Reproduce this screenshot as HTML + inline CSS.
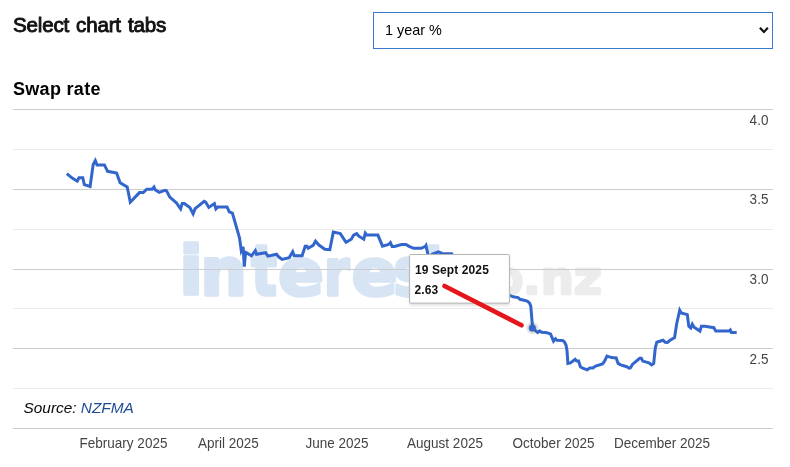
<!DOCTYPE html>
<html><head><meta charset="utf-8">
<style>
html,body{margin:0;padding:0;background:#fff;}
body{width:790px;height:467px;overflow:hidden;position:relative;font-family:"Liberation Sans",sans-serif;color:#111;}
.h1{position:absolute;left:13px;top:11px;font-size:21px;line-height:28px;font-weight:normal;-webkit-text-stroke:0.9px #111;color:#111;transform:scaleX(0.98);transform-origin:0 0;white-space:nowrap;word-spacing:1.6px;letter-spacing:-0.2px;}
.sel{position:absolute;left:373px;top:12px;width:400px;height:36.5px;border:1px solid #3b78d0;box-sizing:border-box;background:#fff;}
.sel span{position:absolute;left:11px;top:8px;font-size:14.4px;line-height:18px;color:#000;}
.h2{position:absolute;left:13px;top:78px;font-size:18px;line-height:22px;font-weight:bold;color:#000;letter-spacing:0.3px;}
.src{position:absolute;left:23.5px;top:398px;font-size:15.4px;line-height:20px;font-style:italic;color:#0a0a0a;white-space:nowrap;}
.src a{color:#214c96;text-decoration:none;}
svg{position:absolute;left:0;top:0;}
</style></head><body>
<div class="h1">Select chart tabs</div>
<div class="sel"><span>1 year %</span></div>
<div class="h2">Swap rate</div>
<svg width="790" height="467" viewBox="0 0 790 467">
<defs><filter id="bl" x="-5%" y="-20%" width="110%" height="140%"><feGaussianBlur stdDeviation="0.7"/></filter><filter id="sh" x="-10%" y="-10%" width="120%" height="130%"><feDropShadow dx="0" dy="2" stdDeviation="1" flood-color="#cccccc" flood-opacity="0.6"/></filter><radialGradient id="halo"><stop offset="0.45" stop-color="#444" stop-opacity="0.3"/><stop offset="1" stop-color="#444" stop-opacity="0"/></radialGradient></defs>
<path d="M759.9,27.8 L763.9,31.9 L767.9,27.8" fill="none" stroke="#111" stroke-width="2.2" stroke-linecap="butt" stroke-linejoin="miter"/>
<g filter="url(#bl)" font-family="DejaVu Sans, sans-serif" font-weight="bold" stroke-linejoin="round">
<text><tspan fill="#d7e4f3" stroke="#d7e4f3" stroke-width="3.5"><tspan x="179.26" y="294.75" font-size="68.05" textLength="23.79" lengthAdjust="spacingAndGlyphs">i</tspan><tspan x="200.59" y="294.75" font-size="65.17" textLength="46.24" lengthAdjust="spacingAndGlyphs">n</tspan><tspan x="251.24" y="295.25" font-size="69.93" textLength="25.65" lengthAdjust="spacingAndGlyphs">t</tspan><tspan x="278.35" y="294.64" font-size="64.09" textLength="45.46" lengthAdjust="spacingAndGlyphs">e</tspan><tspan x="324.08" y="294.75" font-size="64.64" textLength="25.28" lengthAdjust="spacingAndGlyphs">r</tspan><tspan x="351.84" y="294.64" font-size="64.09" textLength="45.78" lengthAdjust="spacingAndGlyphs">e</tspan><tspan x="393.40" y="294.61" font-size="66.53" textLength="32.76" lengthAdjust="spacingAndGlyphs">s</tspan><tspan x="423.14" y="295.25" font-size="69.93" textLength="25.65" lengthAdjust="spacingAndGlyphs">t</tspan></tspan><tspan fill="#ececec" stroke="#ececec" stroke-width="2.5"><tspan x="452.40" y="294.35" font-size="39.16" textLength="16.80" lengthAdjust="spacingAndGlyphs">.</tspan><tspan x="469.82" y="294.00" font-size="45.98" textLength="25.38" lengthAdjust="spacingAndGlyphs">c</tspan><tspan x="494.84" y="294.00" font-size="45.98" textLength="28.61" lengthAdjust="spacingAndGlyphs">o</tspan><tspan x="523.50" y="294.35" font-size="39.16" textLength="16.80" lengthAdjust="spacingAndGlyphs">.</tspan><tspan x="540.64" y="294.35" font-size="46.60" textLength="33.15" lengthAdjust="spacingAndGlyphs">n</tspan><tspan x="573.86" y="294.35" font-size="45.53" textLength="28.13" lengthAdjust="spacingAndGlyphs">z</tspan></tspan></text>
</g>
<g stroke="#ccc" stroke-width="1" shape-rendering="crispEdges">
<line x1="13" x2="773" y1="109.5" y2="109.5"/>
<line x1="13" x2="773" y1="189.5" y2="189.5"/>
<line x1="13" x2="773" y1="269.5" y2="269.5"/>
<line x1="13" x2="773" y1="348.5" y2="348.5"/>
<line x1="13" x2="773" y1="428.5" y2="428.5"/>
</g>
<g stroke="#ebebeb" stroke-width="1" shape-rendering="crispEdges">
<line x1="13" x2="773" y1="149.5" y2="149.5"/>
<line x1="13" x2="773" y1="229.5" y2="229.5"/>
<line x1="13" x2="773" y1="308.5" y2="308.5"/>
<line x1="13" x2="773" y1="388.5" y2="388.5"/>
</g>
<g font-family="Liberation Sans, sans-serif" font-size="14" fill="#444" text-anchor="end">
<text transform="translate(768.4,125) scale(0.965,1)">4.0</text>
<text transform="translate(768.4,204) scale(0.965,1)">3.5</text>
<text transform="translate(768.4,284) scale(0.965,1)">3.0</text>
<text transform="translate(768.4,364) scale(0.965,1)">2.5</text>
</g>
<g font-family="Liberation Sans, sans-serif" font-size="14" fill="#444" text-anchor="middle">
<text transform="translate(123.5,448.4) scale(0.965,1)">February 2025</text>
<text transform="translate(228.4,448.4) scale(0.965,1)">April 2025</text>
<text transform="translate(337,448.4) scale(0.965,1)">June 2025</text>
<text transform="translate(445,448.4) scale(0.965,1)">August 2025</text>
<text transform="translate(553.5,448.4) scale(0.965,1)">October 2025</text>
<text transform="translate(662,448.4) scale(0.965,1)">December 2025</text>
</g>
<path d="M66.8,173.6 L71.9,177.8 L77.2,181.2 L79.0,177.8 L82.8,177.8 L84.3,184.7 L90.1,186.5 L93.2,164.4 L95.3,160.6 L97.0,164.9 L104.4,164.9 L107.6,171.3 L116.6,173.1 L120.1,182.7 L127.2,187.0 L130.3,202.2 L139.4,192.6 L143.3,192.6 L146.7,189.2 L152.0,189.2 L154.0,187.0 L155.1,189.8 L159.2,192.3 L164.9,190.3 L166.5,190.8 L169.8,197.1 L176.1,202.5 L180.6,208.9 L182.2,203.6 L184.4,203.6 L189.8,207.4 L193.1,213.8 L195.1,208.6 L204.2,201.3 L205.7,202.1 L208.8,207.4 L214.4,203.6 L215.9,208.9 L217.9,206.9 L227.0,206.9 L229.3,211.9 L232.4,213.2 L239.5,237.8 L241.3,250.7 L243.1,246.9 L244.3,266.7 L245.6,252.3 L251.5,255.8 L255.3,250.7 L256.5,254.2 L265.6,252.7 L267.9,256.1 L276.6,254.2 L278.6,256.8 L282.1,259.4 L289.2,257.6 L292.7,251.8 L294.2,255.8 L302.1,255.8 L305.2,246.2 L307.0,246.2 L308.2,248.2 L313.1,245.4 L315.5,241.2 L318.9,245.1 L324.9,249.2 L329.8,249.7 L333.3,232.1 L340.3,233.6 L346.0,242.3 L351.3,239.2 L353.6,235.1 L356.6,233.6 L358.9,236.2 L363.8,239.2 L365.3,233.1 L366.8,235.1 L377.9,235.1 L382.5,246.1 L388.6,244.5 L390.4,242.7 L392.1,246.4 L394.6,246.4 L401.5,244.5 L406.0,244.5 L409.1,246.4 L413.7,248.3 L421.3,248.3 L425.5,246.4 L426.0,245.6 L427.9,254.4 L429.2,257.5 L432.5,254 L438.5,251.9 L442.1,253.4 L451.7,253.8 L453.5,258.0 L476.0,262.0 L490.0,263.0 L497.0,270.0 L500.0,292.0 L509.9,295.4 L513,296.8 L518.1,297.6 L520,299.3 L527.3,301.1 L529.6,303.2 L530.8,306.3 L532.3,324.4 L532.5,328 L537.7,332.6 L539.6,330.9 L541.6,332.3 L545.8,332.5 L549.6,333.6 L550.5,334.0 L553.5,341.2 L555.5,338.7 L557.0,340.2 L562.5,340.4 L564.3,341.8 L566.0,345.0 L567.0,350.4 L567.9,363.4 L570.5,362.9 L575.1,359.4 L576.6,361.1 L578.6,361.1 L580.4,366.7 L582.7,368.2 L587.3,369.8 L589.8,367.9 L592.9,367.9 L595.6,366.0 L602.5,364.0 L604.4,361.4 L607.0,356.1 L611.6,357.6 L616.2,357.9 L618.1,363.4 L620.7,364.9 L626.8,366.7 L629.1,368.2 L630.3,367.9 L632.4,364.4 L639.7,358.3 L641.3,358.3 L642.8,361.1 L648.9,362.9 L651.6,364.9 L653.7,363.4 L655.3,347.8 L656.8,342.2 L662.9,340.2 L665.2,342.2 L667.5,342.5 L670.5,339.9 L674.6,337.5 L676.6,324.2 L679.7,310.2 L681.2,313.0 L687.3,314.6 L688.8,326.2 L690.8,328.0 L692.3,324.2 L694.1,327.3 L699.9,331.1 L701.4,326.2 L704.8,326.2 L713.9,327.7 L715.7,331.1 L729.1,331.1 L730.3,330.0 L731.4,332.6 L736.7,332.6" fill="none" stroke="#3366cc" stroke-width="3" stroke-linejoin="miter" stroke-linecap="butt"/>
<circle cx="532.4" cy="328" r="7" fill="url(#halo)"/>
<circle cx="532.4" cy="328" r="3.5" fill="#3366cc"/>
<rect x="409.6" y="254.5" width="99.8" height="48.6" rx="1" ry="1" fill="#fff" stroke="#b4b4b4" stroke-width="1" filter="url(#sh)"/>
<g font-family="Liberation Sans, sans-serif" font-size="12" font-weight="bold" fill="#111" letter-spacing="0.1">
<text x="415" y="274">19 Sept 2025</text>
<text x="414.5" y="293.7">2.63</text>
</g>
<line x1="444.5" y1="286" x2="521.5" y2="325.3" stroke="#e4161b" stroke-width="4.6" stroke-linecap="round"/>
</svg>
<div class="src">Source: <a>NZFMA</a></div>
</body></html>
